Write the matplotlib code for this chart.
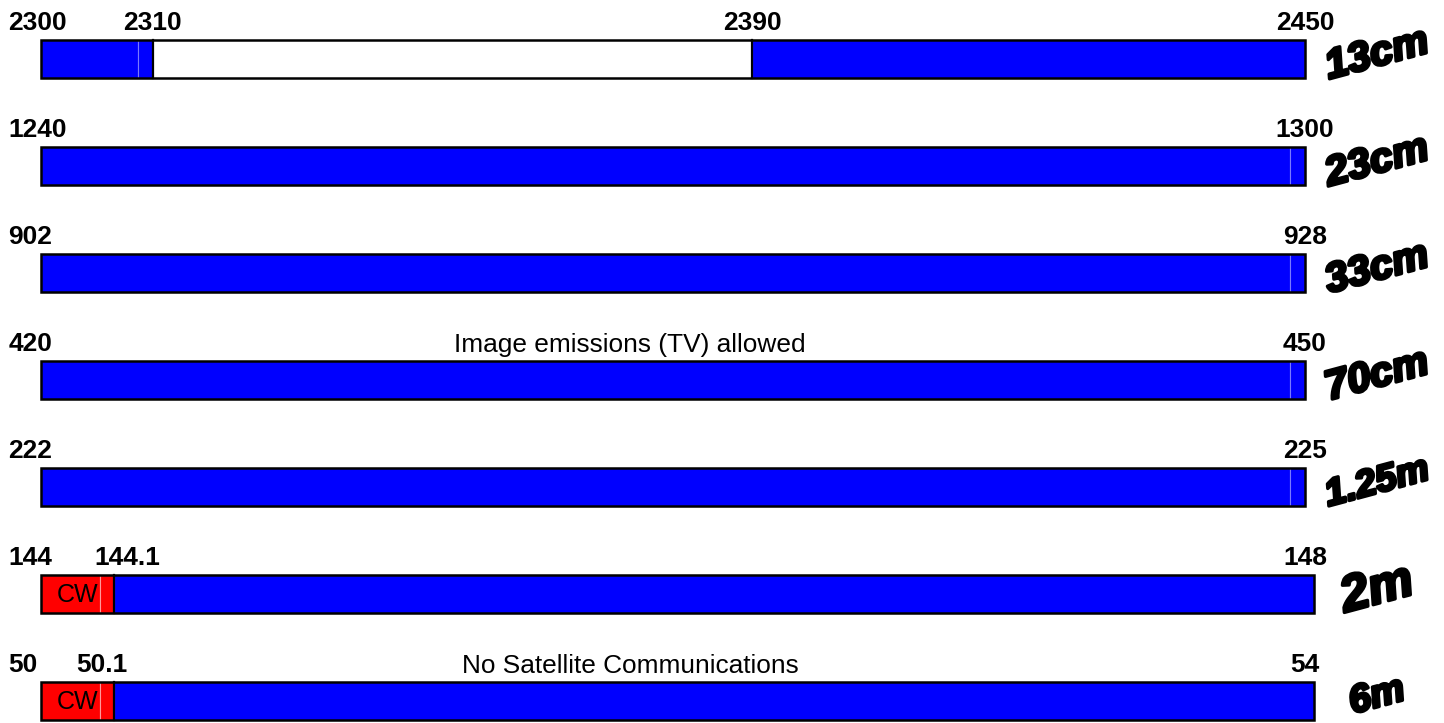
import matplotlib
matplotlib.use("Agg")
import matplotlib.pyplot as plt
import matplotlib.patheffects as pe
from matplotlib.patches import Rectangle

# Band plan data (diagram is schematic, positions are fractions of a full bar)
bands = ['13cm', '23cm', '33cm', '70cm', '1.25m', '2m', '6m']
lower = ['2300', '1240', '902', '420', '222', '144', '50']
upper = ['2450', '1300', '928', '450', '225', '148', '54']

# segment break points along each bar, and colour of each segment
breaks = [
    [0, 0.0767, 0.0886, 0.5625, 1.0],
    [0, 0.988, 1.0],
    [0, 0.988, 1.0],
    [0, 0.988, 1.0],
    [0, 0.988, 1.0],
    [0, 0.0467, 0.0578, 1.007],
    [0, 0.0467, 0.0578, 1.007],
]
colours = [
    ['blue', 'blue', 'white', 'blue'],
    ['blue', 'blue'],
    ['blue', 'blue'],
    ['blue', 'blue'],
    ['blue', 'blue'],
    ['red', 'red', 'blue'],
    ['red', 'red', 'blue'],
]
# inner edge labels: (text, position)
inner = [[('2310', 0.0878), ('2390', 0.563)], [], [], [], [],
         [('144.1', 0.068)], [('50.1', 0.048)]]
seg_text = [None, None, None, None, None, 'CW', 'CW']
notes = ['', '', '', 'Image emissions (TV) allowed', '', '', 'No Satellite Communications']

light = {'blue': '#7a7aff', 'red': '#ff9a9a', 'white': 'white'}

W, H = 1444, 723
fig = plt.figure(figsize=(W / 100, H / 100), dpi=100)
ax = fig.add_axes([0, 0, 1, 1])
ax.set_xlim(-41 / 1264, (W - 41) / 1264)
ax.set_ylim((H - 59) / 107, -59 / 107)
ax.axis('off')

bh = 0.364
lbl_font = dict(family='Liberation Sans', fontweight='bold', fontsize=19)

for i, band in enumerate(bands):
    b = breaks[i]
    lefts = b[:-1]
    widths = [b[k + 1] - b[k] for k in range(len(b) - 1)]
    ax.barh([i] * len(lefts), widths, left=lefts, height=bh, color=colours[i],
            edgecolor=[light[c] for c in colours[i]], linewidth=0.8)
    # black lines where the colour changes
    for k in range(1, len(colours[i])):
        if colours[i][k] != colours[i][k - 1]:
            ax.plot([b[k], b[k]], [i - bh / 2, i + bh / 2], color='black', lw=1.6)
    ax.add_patch(Rectangle((b[0], i - bh / 2), b[-1] - b[0], bh, fill=False,
                           edgecolor='black', lw=1.8, zorder=3))

    ty = i - 0.268
    ax.text(-0.026, ty, lower[i], ha='left', va='baseline', **lbl_font)
    ax.text(1.0, ty, upper[i], ha='center', va='baseline', **lbl_font)
    for txt, pos in inner[i]:
        ax.text(pos, ty, txt, ha='center', va='baseline', **lbl_font)
    if notes[i]:
        ax.text(0.466, ty + 0.005, notes[i], ha='center', va='baseline',
                family='Liberation Sans', fontsize=18.9)
    if seg_text[i]:
        ax.text((b[0] + b[2]) / 2, i + 0.01, seg_text[i], ha='center', va='center',
                family='Liberation Sans', fontsize=18)

# slanted band names, each sized to fit the same box (and stay on the canvas)
fig.canvas.draw()
renderer = fig.canvas.get_renderer()
for i, band in enumerate(bands):
    t = ax.text(1.057, i - 0.04, band, ha='center', va='center', rotation=15,
                rotation_mode='anchor', family='Liberation Sans',
                fontweight='bold', style='italic', fontsize=30,
                path_effects=[pe.withStroke(linewidth=2.4, foreground='black')])
    bb = t.get_window_extent(renderer)
    cy = (bb.y0 + bb.y1) / 2
    hmax = min(66, 2 * cy - 2)
    t.set_fontsize(30 * min(112 / bb.width, hmax / bb.height))

fig.savefig('out.png', dpi=100)
